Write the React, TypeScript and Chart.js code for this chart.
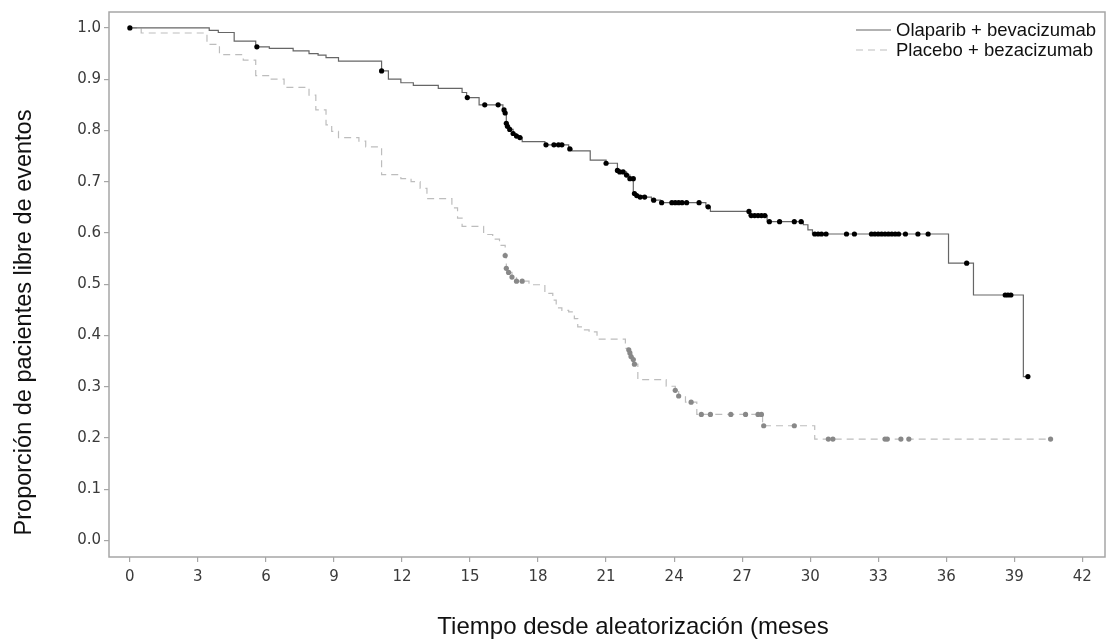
import React, { useEffect, useRef } from "react";
import { Chart, registerables } from "chart.js";

Chart.register(...registerables);

// ---- Data ----
const legendLabels = ["Olaparib + bevacizumab", "Placebo + bezacizumab"];
const xTitle = "Tiempo desde aleatorización (meses";
const yTitle = "Proporción de pacientes libre de eventos";

// Olaparib + bevacizumab: KM step curve (time in months, survival)
const olaTimes = [0, 3.5, 3.9, 4.6, 5.55, 6.15, 7.2, 7.9, 8.3, 8.65, 9.2, 11.1, 11.4, 11.95, 12.5, 13.6, 14.65, 14.85, 15.4, 16.45, 16.55, 16.6, 16.65, 16.75, 16.9, 17.05, 17.2, 17.3, 18.3, 19.35, 19.5, 20.3, 21.0, 21.5, 21.6, 21.9, 22.05, 22.2, 22.35, 22.6, 23.0, 23.4, 25.4, 25.6, 27.3, 28.1, 29.7, 29.9, 30.1, 36.1, 37.2, 39.4, 39.6];
const olaSurv = [1.0, 0.995, 0.991, 0.974, 0.963, 0.96, 0.955, 0.95, 0.947, 0.942, 0.935, 0.916, 0.9, 0.893, 0.888, 0.882, 0.874, 0.864, 0.85, 0.84, 0.834, 0.814, 0.808, 0.802, 0.794, 0.789, 0.786, 0.778, 0.772, 0.764, 0.76, 0.742, 0.736, 0.722, 0.719, 0.713, 0.706, 0.677, 0.673, 0.67, 0.664, 0.659, 0.651, 0.642, 0.634, 0.622, 0.616, 0.606, 0.598, 0.541, 0.479, 0.32, 0.32];
const olaCensorTimes = [0, 5.6, 11.1, 14.88, 15.65, 16.24, 16.5, 16.55, 16.6, 16.65, 16.75, 16.9, 17.05, 17.2, 18.35, 18.7, 18.9, 19.05, 19.4, 21.0, 21.5, 21.6, 21.75, 21.9, 22.05, 22.2, 22.25, 22.35, 22.5, 22.7, 23.1, 23.45, 23.9, 24.05, 24.2, 24.35, 24.55, 25.1, 25.5, 27.3, 27.4, 27.55, 27.7, 27.85, 28.0, 28.2, 28.65, 29.3, 29.6, 30.2, 30.35, 30.5, 30.7, 31.6, 31.95, 32.7, 32.85, 33.0, 33.15, 33.3, 33.45, 33.6, 33.75, 33.9, 34.2, 34.75, 35.2, 36.9, 38.6, 38.72, 38.85, 39.6];
const olaCensorSurv = [1.0, 0.963, 0.916, 0.864, 0.85, 0.85, 0.84, 0.834, 0.814, 0.808, 0.802, 0.794, 0.789, 0.786, 0.772, 0.772, 0.772, 0.772, 0.764, 0.736, 0.722, 0.719, 0.719, 0.713, 0.706, 0.706, 0.677, 0.673, 0.67, 0.67, 0.664, 0.659, 0.659, 0.659, 0.659, 0.659, 0.659, 0.659, 0.651, 0.642, 0.634, 0.634, 0.634, 0.634, 0.634, 0.622, 0.622, 0.622, 0.622, 0.598, 0.598, 0.598, 0.598, 0.598, 0.598, 0.598, 0.598, 0.598, 0.598, 0.598, 0.598, 0.598, 0.598, 0.598, 0.598, 0.598, 0.598, 0.541, 0.479, 0.479, 0.479, 0.32];

// Placebo + bevacizumab
const placTimes = [0, 0.5, 3.4, 3.95, 5.0, 5.55, 6.2, 6.8, 7.9, 8.2, 8.65, 8.9, 9.2, 10.1, 10.4, 11.1, 11.95, 12.4, 12.8, 13.1, 14.2, 14.45, 14.65, 15.6, 16.0, 16.3, 16.55, 16.6, 16.7, 16.85, 17.05, 17.6, 18.3, 18.65, 18.8, 19.05, 19.35, 19.6, 19.75, 19.95, 20.25, 20.6, 21.85, 22.0, 22.05, 22.1, 22.2, 22.25, 22.4, 23.65, 24.05, 24.2, 24.5, 25.0, 27.9, 30.2, 40.6];
const placSurv = [1.0, 0.99, 0.968, 0.948, 0.937, 0.907, 0.9, 0.884, 0.869, 0.84, 0.811, 0.798, 0.786, 0.779, 0.768, 0.714, 0.706, 0.7, 0.687, 0.667, 0.649, 0.629, 0.613, 0.597, 0.588, 0.576, 0.556, 0.531, 0.523, 0.514, 0.506, 0.499, 0.482, 0.469, 0.454, 0.449, 0.446, 0.433, 0.417, 0.411, 0.407, 0.393, 0.375, 0.372, 0.366, 0.359, 0.353, 0.344, 0.314, 0.301, 0.293, 0.282, 0.27, 0.246, 0.224, 0.198, 0.198];
const placCensorTimes = [16.55, 16.6, 16.7, 16.85, 17.05, 17.3, 22.0, 22.05, 22.1, 22.2, 22.25, 24.05, 24.2, 24.75, 25.2, 25.6, 26.5, 27.15, 27.7, 27.85, 27.95, 29.3, 30.8, 31.0, 33.3, 33.4, 34.0, 34.35, 40.6];
const placCensorSurv = [0.556, 0.531, 0.523, 0.514, 0.506, 0.506, 0.372, 0.366, 0.359, 0.353, 0.344, 0.293, 0.282, 0.27, 0.246, 0.246, 0.246, 0.246, 0.246, 0.246, 0.224, 0.224, 0.198, 0.198, 0.198, 0.198, 0.198, 0.198, 0.198];

const pts = (t: number[], s: number[]) => t.map((x, i) => ({ x, y: s[i] }));

const frameColor = "#a6a6a6";
const titleFont = '"Liberation Sans", Arial, sans-serif';

const framePlugin = {
  id: "frame",
  beforeDatasetsDraw(chart: any) {
    const { ctx, chartArea: a } = chart;
    ctx.save();
    ctx.strokeStyle = frameColor;
    ctx.lineWidth = 1.5;
    ctx.strokeRect(a.left, a.top, a.right - a.left, a.bottom - a.top);
    ctx.restore();
  },
};

const titlesPlugin = {
  id: "axisTitles",
  afterDraw(chart: any) {
    const { ctx, chartArea: a } = chart;
    ctx.save();
    ctx.fillStyle = "#111111";
    ctx.textBaseline = "alphabetic";
    ctx.textAlign = "center";
    ctx.font = "24px " + titleFont;
    ctx.fillText(xTitle, (a.left + a.right) / 2 + 26, a.bottom + 77);
    ctx.translate(31, (a.top + a.bottom) / 2 + 38);
    ctx.rotate(-Math.PI / 2);
    ctx.font = "23.5px " + titleFont;
    ctx.fillText(yTitle, 0, 0);
    ctx.restore();
  },
};

const legendPlugin = {
  id: "kmLegend",
  afterDraw(chart: any) {
    const { ctx, chartArea: a } = chart;
    const styles = [
      { color: "#666666", dash: [] as number[] },
      { color: "#bdbdbd", dash: [7, 5] },
    ];
    ctx.save();
    ctx.font = "18.5px " + titleFont;
    ctx.textBaseline = "middle";
    ctx.textAlign = "left";
    legendLabels.forEach((label, i) => {
      const y = a.top + 18 + i * 20;
      ctx.strokeStyle = styles[i].color;
      ctx.lineWidth = 1.2;
      ctx.setLineDash(styles[i].dash);
      ctx.beginPath();
      ctx.moveTo(a.right - 249, y);
      ctx.lineTo(a.right - 214, y);
      ctx.stroke();
      ctx.setLineDash([]);
      ctx.fillStyle = "#111111";
      ctx.fillText(label, a.right - 209, y + 1);
    });
    ctx.restore();
  },
};

export default function App() {
  const ref = useRef<HTMLCanvasElement | null>(null);
  useEffect(() => {
    if (!ref.current) return;
    const tickFont = { family: '"DejaVu Sans", Verdana, sans-serif', size: 15 };
    const chart = new Chart(ref.current, {
      type: "line",
      data: {
        datasets: [
          {
            label: legendLabels[0] + " censor",
            data: pts(olaCensorTimes, olaCensorSurv),
            showLine: false,
            pointRadius: 2.6,
            pointBackgroundColor: "#000000",
            pointBorderColor: "#000000",
            pointBorderWidth: 0,
            order: 0,
          },
          {
            label: legendLabels[1] + " censor",
            data: pts(placCensorTimes, placCensorSurv),
            showLine: false,
            pointRadius: 2.6,
            pointBackgroundColor: "#888888",
            pointBorderColor: "#888888",
            pointBorderWidth: 0,
            order: 0,
          },
          {
            label: legendLabels[0],
            data: pts(olaTimes, olaSurv),
            stepped: "before",
            borderColor: "#666666",
            borderWidth: 1.2,
            pointRadius: 0,
            fill: false,
            order: 1,
          },
          {
            label: legendLabels[1],
            data: pts(placTimes, placSurv),
            stepped: "before",
            borderColor: "#bdbdbd",
            borderWidth: 1.2,
            borderDash: [7, 5],
            pointRadius: 0,
            fill: false,
            order: 2,
          },
        ],
      },
      options: {
        animation: false,
        responsive: false,
        layout: { padding: { top: 10, right: 2, left: 0, bottom: 0 } },
        plugins: { legend: { display: false }, tooltip: { enabled: false } },
        scales: {
          x: {
            type: "linear",
            min: -0.92,
            max: 43.0,
            afterFit: (s: any) => {
              s.height = 85;
            },
            border: { display: false },
            grid: { drawOnChartArea: false, drawTicks: true, tickLength: 5, color: frameColor, lineWidth: 1.2 },
            ticks: {
              stepSize: 3,
              includeBounds: false,
              font: tickFont,
              color: "#3a3a3a",
              padding: 6,
              maxRotation: 0,
              callback: (v: any) => String(v),
            },
            title: { display: false },
          },
          y: {
            type: "linear",
            min: -0.032,
            max: 1.031,
            afterFit: (s: any) => {
              s.width = 109;
            },
            border: { display: false },
            grid: { drawOnChartArea: false, drawTicks: true, tickLength: 5, color: frameColor, lineWidth: 1.2 },
            ticks: {
              stepSize: 0.1,
              includeBounds: false,
              font: tickFont,
              color: "#3a3a3a",
              padding: 3,
              callback: (v: any) => Number(v).toFixed(1),
            },
            title: { display: false },
          },
        },
      },
      plugins: [framePlugin, legendPlugin, titlesPlugin],
    } as any);
    return () => chart.destroy();
  }, []);
  return (
    <div style={{ position: "absolute", left: 0, top: 0, width: 1109, height: 642, background: "#ffffff" }}>
      <canvas ref={ref} width={1109} height={642} />
    </div>
  );
}
